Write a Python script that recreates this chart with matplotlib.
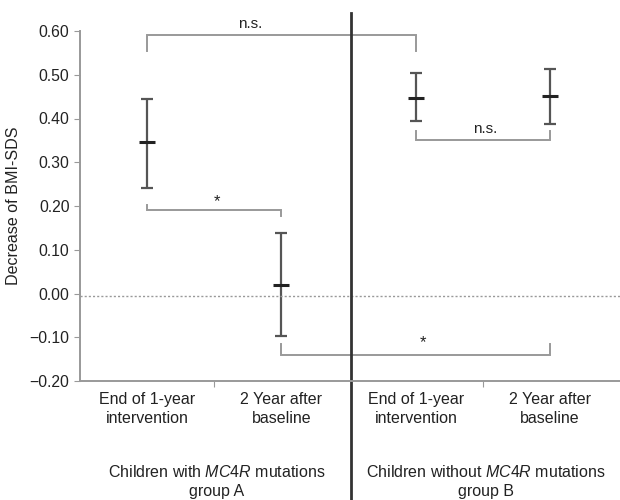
import matplotlib.pyplot as plt
import numpy as np

plt.rcParams['font.family'] = ['Liberation Sans', 'DejaVu Sans']
plt.rcParams['mathtext.fontset'] = 'custom'
plt.rcParams['mathtext.rm'] = 'Liberation Sans'
plt.rcParams['mathtext.it'] = 'Liberation Sans:italic'

# data
categories = ['End of 1-year\nintervention', '2 Year after\nbaseline',
              'End of 1-year\nintervention', '2 Year after\nbaseline']
groups = ['Children with $\\mathit{MC4R}$ mutations\ngroup A',
          'Children without $\\mathit{MC4R}$ mutations\ngroup B']
means = [0.347, 0.020, 0.448, 0.452]
upper = [0.444, 0.138, 0.503, 0.513]
lower = [0.242, -0.097, 0.394, 0.387]
yticks = [-0.20, -0.10, 0.00, 0.10, 0.20, 0.30, 0.40, 0.50, 0.60]
ref_line = -0.005

# significance brackets: (from, to, bar y, left end y, right end y, label, label x, label y)
brackets = [
    (0, 2, 0.592, 0.555, 0.555, 'n.s.', 0.77, 0.600),
    (0, 1, 0.190, 0.203, 0.178, '*', 0.52, 0.193),
    (2, 3, 0.350, 0.372, 0.372, 'n.s.', 2.52, 0.360),
    (1, 3, -0.140, -0.115, -0.115, '*', 2.05, -0.130),
]

fig = plt.figure(figsize=(6.2, 5), dpi=100)
ax = fig.add_axes([0.129, 0.238, 0.871, 0.70])

x = np.arange(len(means))
m = np.array(means)
yerr = [m - np.array(lower), np.array(upper) - m]
ax.errorbar(x, m, yerr=yerr, fmt='none', ecolor='#555555', elinewidth=1.6,
            capsize=4.5, capthick=1.6)
ax.plot(x, m, linestyle='none', marker='_', markersize=11, mew=2.2, color='#222222')

ax.axhline(ref_line, color='#999999', linestyle=(0, (1.5, 1.5)), linewidth=1.0)

br_color = '#999999'
for a, b, yb, ya, yc, lab, lx, ly in brackets:
    ax.plot([a, a, b, b], [ya, yb, yb, yc], color=br_color, linewidth=1.4,
            clip_on=False, solid_joinstyle='miter')
    fs = 12 if lab == '*' else 11
    ax.text(lx, ly, lab, ha='center', va='bottom', fontsize=fs, color='#222222')

ax.set_xlim(-0.5, 3.52)
ax.set_ylim(-0.2, 0.6)
ax.set_yticks(yticks)
ax.set_yticklabels(['%.2f' % v if v >= 0 else '\u2212%.2f' % -v for v in yticks], fontsize=11.3)
ax.set_xticks([0.5, 2.5])
ax.set_xticklabels(['', ''])
ax.tick_params(axis='x', length=4, color='#999999', direction='out')
ax.tick_params(axis='y', length=4, color='#999999', labelcolor='#222222')
ax.set_ylabel('Decrease of BMI-SDS', fontsize=11.6, color='#222222', labelpad=6)

for s in ['top', 'right']:
    ax.spines[s].set_visible(False)
for s in ['left', 'bottom']:
    ax.spines[s].set_color('#999999')
    ax.spines[s].set_linewidth(1.4)

for i, c in enumerate(categories):
    ax.text(x[i], -0.225, c, ha='center', va='top', fontsize=11.5, color='#222222',
            linespacing=1.3)

group_x = [0.52, 2.52]
for gx, g in zip(group_x, groups):
    ax.text(gx, -0.39, g, ha='center', va='top', fontsize=11.5, color='#222222',
            linespacing=1.3)

# vertical separator between groups
ax.plot([1.52, 1.52], [1.051, -0.34], transform=ax.get_xaxis_transform(),
        color='#333333', linewidth=2.0, clip_on=False)

fig.savefig('out.png', dpi=100)
